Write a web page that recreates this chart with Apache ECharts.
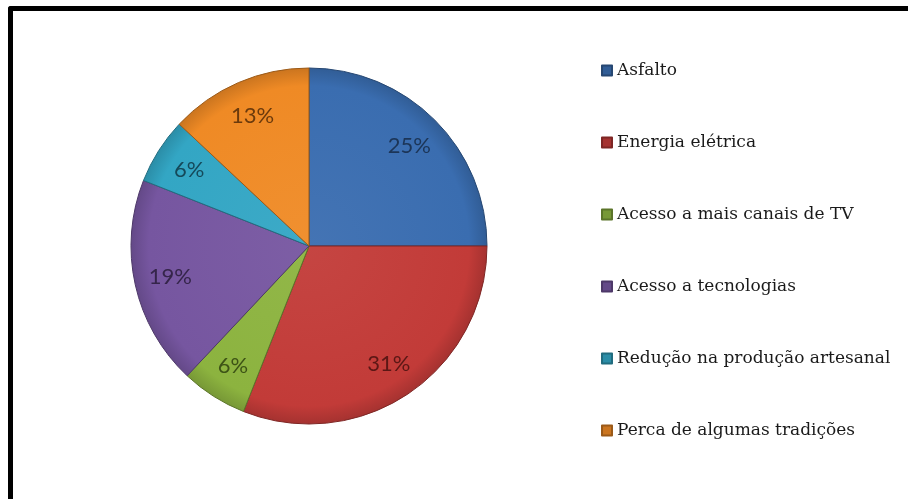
<!DOCTYPE html>
<html>
<head>
<meta charset="utf-8">
<script src="https://cdn.jsdelivr.net/npm/echarts@6/dist/echarts.min.js"></script>
<style>
  html, body { margin: 0; padding: 0; background: #fff; }
  #frame {
    position: absolute; left: 8px; top: 6px; width: 920px; height: 520px;
    border-left: 5px solid #000; border-top: 5px solid #000; border-top-left-radius: 3px;
  }
  #main { position: absolute; left: 0; top: 0; width: 908px; height: 499px; }
</style>
</head>
<body>
<div id="frame"></div>
<div id="main"></div>
<script>
// categorias e percentuais
const categories = [
  "Asfalto",
  "Energia elétrica",
  "Acesso a mais canais de TV",
  "Acesso a tecnologias",
  "Redução na produção artesanal",
  "Perca de algumas tradições"
];
const values = [25, 31, 6, 19, 6, 13];

const colors = ["#3a6db0", "#c23b38", "#8cb33f", "#7656a0", "#33a6c4", "#ef8a25"];
const labelColors = ["#1c3557", "#5b1715", "#3d5316", "#35254a", "#15495a", "#6b3a0c"];

const cx = 309, cy = 246, R = 178;

// escurece / clareia uma cor hex
function shade(hex, f) {
  const n = parseInt(hex.slice(1), 16);
  let r = (n >> 16) & 255, g = (n >> 8) & 255, b = n & 255;
  const mix = (c) => f >= 0 ? Math.round(c + (255 - c) * f) : Math.round(c * (1 + f));
  return "rgb(" + mix(r) + "," + mix(g) + "," + mix(b) + ")";
}

const chart = echarts.init(document.getElementById("main"));

const pieData = categories.map((name, i) => ({
  name: name,
  value: values[i],
  itemStyle: {
    color: new echarts.graphic.RadialGradient(cx, cy, R, [
      { offset: 0, color: shade(colors[i], 0.05) },
      { offset: 0.9, color: colors[i] },
      { offset: 1, color: shade(colors[i], -0.15) }
    ], true),
    borderColor: shade(colors[i], -0.35)
  }
}));

const labelData = categories.map((name, i) => ({
  name: name,
  value: values[i],
  label: { color: labelColors[i] }
}));

chart.setOption({
  animation: false,
  color: colors,
  legend: {
    orient: "vertical",
    left: 601,
    top: 61,
    padding: 0,
    icon: "rect",
    itemWidth: 10,
    itemHeight: 10,
    itemGap: 53,
    data: categories,
    textStyle: {
      fontFamily: "DejaVu Serif",
      fontSize: 17,
      lineHeight: 19,
      color: "#1a1a1a"
    },
    selectedMode: false
  },
  series: [
    {
      type: "pie",
      center: [cx, cy],
      radius: [0, R],
      startAngle: 90,
      clockwise: true,
      label: { show: false },
      labelLine: { show: false },
      itemStyle: { borderWidth: 1 },
      emphasis: { disabled: true },
      silent: true,
      data: pieData
    },
    {
      // série transparente só para posicionar os rótulos
      type: "pie",
      center: [cx, cy],
      radius: [100, R],
      startAngle: 90,
      clockwise: true,
      itemStyle: { color: "transparent" },
      label: {
        show: true,
        position: "inside",
        formatter: "{c}%",
        fontFamily: "Lato",
        fontSize: 22
      },
      labelLine: { show: false },
      emphasis: { disabled: true },
      silent: true,
      data: labelData
    }
  ]
});
</script>
</body>
</html>
